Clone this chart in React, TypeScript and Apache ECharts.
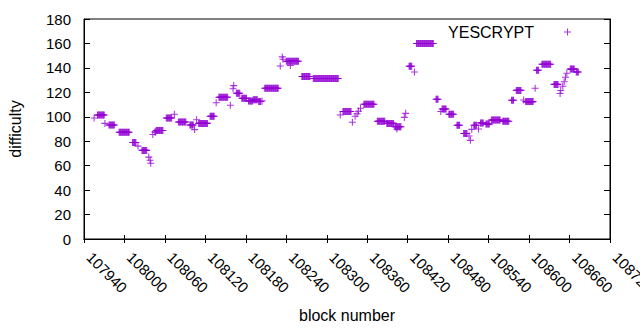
import React, { useEffect, useRef } from "react";
import * as echarts from "echarts";

// Runs of constant difficulty (first block, last block, value)
const runStart = [
  107955, 107960, 107971, 107977, 107992, 108012, 108020, 108026, 108036, 108038,
  108039, 108042, 108045, 108047, 108062, 108074, 108080, 108097, 108104, 108107,
  108110, 108127, 108136, 108140, 108157, 108161, 108162, 108166, 108174, 108184,
  108191, 108199, 108204, 108208, 108231, 108234, 108235, 108240, 108246, 108263,
  108280, 108320, 108324, 108338, 108342, 108345, 108347, 108350, 108355, 108375,
  108389, 108401, 108404, 108415, 108417, 108422, 108430, 108433, 108462, 108469,
  108471, 108481, 108493, 108503, 108511, 108513, 108515, 108518, 108525, 108528,
  108536, 108544, 108561, 108574, 108581, 108592, 108595, 108609, 108611, 108619,
  108637, 108646, 108647, 108650, 108652, 108654, 108656, 108661, 108670,
];
const runEnd = [
  107955, 107970, 107971, 107985, 108007, 108017, 108020, 108033, 108036, 108038,
  108039, 108042, 108046, 108057, 108070, 108074, 108091, 108102, 108104, 108107,
  108123, 108133, 108136, 108153, 108157, 108161, 108162, 108171, 108181, 108190,
  108197, 108202, 108204, 108228, 108231, 108234, 108235, 108258, 108246, 108275,
  108317, 108320, 108336, 108338, 108342, 108345, 108347, 108350, 108370, 108386,
  108399, 108410, 108404, 108415, 108417, 108426, 108430, 108458, 108465, 108469,
  108477, 108488, 108497, 108508, 108511, 108513, 108515, 108522, 108525, 108532,
  108541, 108557, 108570, 108577, 108588, 108592, 108606, 108609, 108614, 108632,
  108643, 108646, 108647, 108650, 108652, 108654, 108656, 108667, 108673,
];
const runValue = [
  99, 101.5, 94.6, 93.3, 87.3, 79, 76, 72.5, 67, 64.5,
  62, 85.5, 87.5, 88.8, 99, 102, 95.7, 93.3, 89.5, 97.5,
  94.6, 100.5, 111.5, 116, 109.5, 123, 125.5, 119.2, 115.2, 113,
  114, 112.5, 113, 123.3, 141.5, 149, 147, 145.4, 142, 133,
  131.4, 101.5, 104.4, 95.5, 100.5, 102.5, 104.5, 107, 110.2, 96.3,
  94.6, 91.9, 90, 99.5, 102.8, 141.3, 136.6, 160, 114.3, 104.4,
  106.3, 102, 93, 86.4, 84.3, 80.7, 89.7, 93, 90, 95,
  94, 97.4, 96.3, 113.5, 121.6, 113.7, 112.4, 123.3, 138, 142.9,
  126.5, 119, 121.5, 125, 128.7, 132.3, 135.6, 139, 136.6,
];

const seriesName = "YESCRYPT";
const xMin = 107940;
const xMax = 108720;
const xStep = 60;
const yMin = 0;
const yMax = 180;
const yStep = 20;

const PLUS = "path://M0,3.4H3.4V0H4.6V3.4H8V4.6H4.6V8H3.4V4.6H0Z";
const COLOR = "#9400d3";
const FONT = "Liberation Sans";

export default function App() {
  const ref = useRef<HTMLDivElement>(null);
  useEffect(() => {
    if (!ref.current) return;
    const chart = echarts.init(ref.current, undefined, { renderer: "svg" });
    const points: number[][] = [];
    for (let i = 0; i < runStart.length; i++) {
      for (let b = runStart[i]; b <= runEnd[i]; b++) {
        points.push([b, runValue[i]]);
      }
    }
    const tickStyle = { color: "#000", width: 1 };
    chart.setOption({
      animation: false,
      backgroundColor: "#fff",
      grid: {
        left: 84,
        right: 30,
        top: 19,
        bottom: 91,
        show: true,
        borderColor: "#000",
        borderWidth: 1,
        containLabel: false,
        outerBoundsMode: "none",
      },
      legend: {
        data: [{ name: seriesName, icon: PLUS }],
        right: 69,
        top: 24,
        padding: 0,
        itemWidth: 7,
        itemHeight: 7,
        align: "right",
        textStyle: {
          fontSize: 16,
          color: "#000",
          fontFamily: FONT,
          padding: [0, 25, 0, 0],
        },
      },
      xAxis: [
        {
          type: "value",
          min: xMin,
          max: xMax,
          interval: xStep,
          position: "bottom",
          name: "block number",
          nameLocation: "middle",
          nameGap: 68,
          nameTextStyle: { fontSize: 16, color: "#000", fontFamily: FONT },
          axisLine: { show: true, lineStyle: tickStyle },
          axisTick: { show: true, inside: true, length: 4, lineStyle: tickStyle },
          axisLabel: {
            rotate: -45,
            margin: 21,
            verticalAlign: "bottom",
            fontSize: 15,
            color: "#000",
            fontFamily: FONT,
            formatter: (v: number) => String(v),
          },
          splitLine: { show: false },
        },
        {
          type: "value",
          min: xMin,
          max: xMax,
          interval: xStep,
          position: "top",
          axisLine: { show: true, lineStyle: tickStyle },
          axisTick: { show: true, inside: true, length: 4, lineStyle: tickStyle },
          axisLabel: { show: false },
          splitLine: { show: false },
        },
      ],
      yAxis: [
        {
          type: "value",
          min: yMin,
          max: yMax,
          interval: yStep,
          position: "left",
          name: "difficulty",
          nameLocation: "middle",
          nameRotate: 90,
          nameGap: 61,
          nameTextStyle: { fontSize: 16, color: "#000", fontFamily: FONT },
          axisLine: { show: true, lineStyle: tickStyle },
          axisTick: { show: true, inside: true, length: 6, lineStyle: tickStyle },
          axisLabel: { margin: 13, fontSize: 15, color: "#000", fontFamily: FONT },
          splitLine: { show: false },
        },
        {
          type: "value",
          min: yMin,
          max: yMax,
          interval: yStep,
          position: "right",
          axisLine: { show: true, lineStyle: tickStyle },
          axisTick: { show: true, inside: true, length: 6, lineStyle: tickStyle },
          axisLabel: { show: false },
          splitLine: { show: false },
        },
      ],
      series: [
        {
          name: seriesName,
          type: "scatter",
          xAxisIndex: 0,
          yAxisIndex: 0,
          symbol: PLUS,
          symbolSize: 7,
          itemStyle: { color: COLOR },
          emphasis: { disabled: true },
          data: points,
        },
      ],
    });
    return () => chart.dispose();
  }, []);
  return (
    <div
      ref={ref}
      style={{ position: "fixed", left: 0, top: 0, width: 640, height: 330, background: "#fff" }}
    />
  );
}
